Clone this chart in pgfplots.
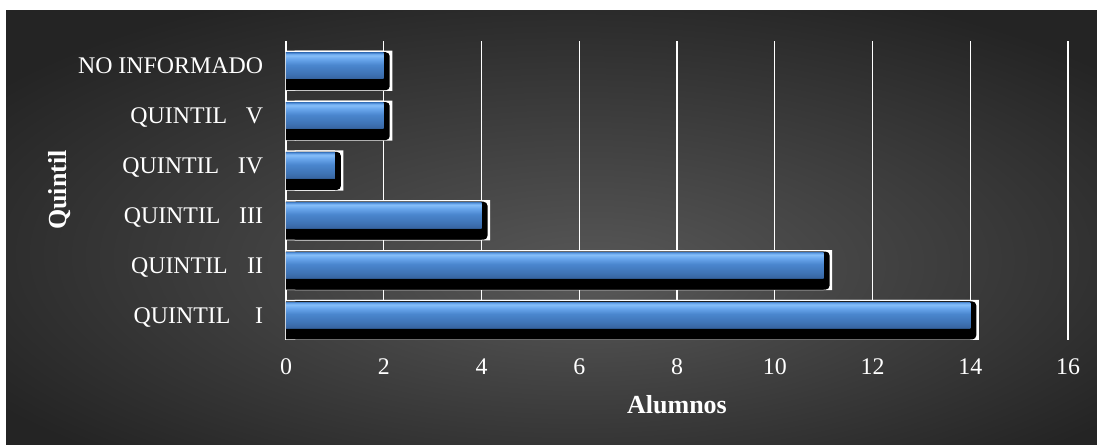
\documentclass[border=0pt]{standalone}
\usepackage{pgfplots}
\pgfplotsset{compat=1.18}
\usepackage{pgfplotstable}
\usepackage{fontspec}
\setmainfont{Liberation Serif}

\definecolor{bgIn}{HTML}{585858}
\definecolor{bgOut}{HTML}{242424}
\definecolor{bEdge}{HTML}{2B5488}
\definecolor{bLow}{HTML}{3866A3}
\definecolor{bLow2}{HTML}{3F74B6}
\definecolor{bMid}{HTML}{4A86CE}
\definecolor{bHi}{HTML}{6BA8EE}
\definecolor{bTop}{HTML}{86BEF8}

\pgfdeclareverticalshading{bevel}{100bp}{%
 color(0bp)=(bEdge); color(25bp)=(bEdge); color(27bp)=(bLow); color(36bp)=(bLow2);
 color(52bp)=(bMid); color(64bp)=(bHi); color(70bp)=(bTop); color(73bp)=(bHi);
 color(75bp)=(bMid); color(100bp)=(bMid)}
\pgfdeclareradialshading{bgshade}{\pgfpoint{2bp}{-6bp}}{%
 color(0bp)=(bgIn); color(32bp)=(bgOut); color(50bp)=(bgOut)}

\pgfplotstableread{
idx v
0 14
1 11
2 4
3 1
4 2
5 2
}\datatable

\begin{document}
\begin{tikzpicture}[x=1pt,y=1pt]
\fill[white] (0,0) rectangle (822.75,333.75);
\shade[shading=bgshade] (4.5,0) rectangle (822.75,325.5);
\begin{axis}[
  at={(214.5pt,78.75pt)}, anchor=south west,
  scale only axis, width=586.5pt, height=224.25pt,
  xmin=0, xmax=16, ymin=-0.5, ymax=5.5,
  enlargelimits=false,
  xtick={0,2,...,16}, ytick={0,1,2,3,4,5},
  yticklabels={QUINTIL\hspace{18.5pt}I, QUINTIL\hspace{14.5pt}II, QUINTIL\hspace{14pt}III, QUINTIL\hspace{14pt}IV, QUINTIL\hspace{14pt}V, NO INFORMADO},
  axis line style={draw=none},
  major tick length=0pt,
  xmajorgrids, ymajorgrids=false,
  grid style={white, line width=1.1pt, solid},
  tick label style={white, font=\fontsize{17.9}{20}\selectfont, inner sep=0pt},
  xticklabel style={anchor=base, yshift=-26.25pt},
  yticklabel style={anchor=base east, xshift=-17pt, yshift=-5.95pt},
  /pgf/number format/assume math mode=true,
  xlabel={Alumnos}, ylabel={Quintil},
  label style={white, font=\bfseries\fontsize{19.5}{22}\selectfont},
  xlabel style={at={(axis description cs:0.5,-0.2475)}, anchor=base},
  ylabel style={at={(axis description cs:-0.2810,0.5017)}, anchor=base},
]
% white frame
\addplot[xbar, bar shift=0pt, bar width=30.15pt, fill=white, draw=none, yshift=-3.675pt]
  table[x=v, y=idx] {\datatable};
\addplot[xbar, bar shift=0pt, bar width=30.15pt, fill=white, draw=none, yshift=-3.675pt, xshift=6.4pt]
  table[x=v, y=idx] {\datatable};
% black shadow
\addplot[xbar, bar shift=0pt, bar width=28.5pt, fill=black, draw=none, yshift=-4pt]
  table[x=v, y=idx] {\datatable};
\addplot[xbar, bar shift=0pt, bar width=28.5pt, fill=black, draw=none, rounded corners=3pt, yshift=-4pt, xshift=4.5pt]
  table[x=v, y=idx] {\datatable};
% blue bars, one path per bar so that each carries its own shading
\pgfplotsinvokeforeach{0,1,2,3,4,5}{
\addplot[xbar, bar shift=0pt, bar width=19.5pt, draw=none, shade, shading=bevel,
  restrict y to domain=#1:#1]
  table[x=v, y=idx] {\datatable};
}
\end{axis}
\end{tikzpicture}
\end{document}
